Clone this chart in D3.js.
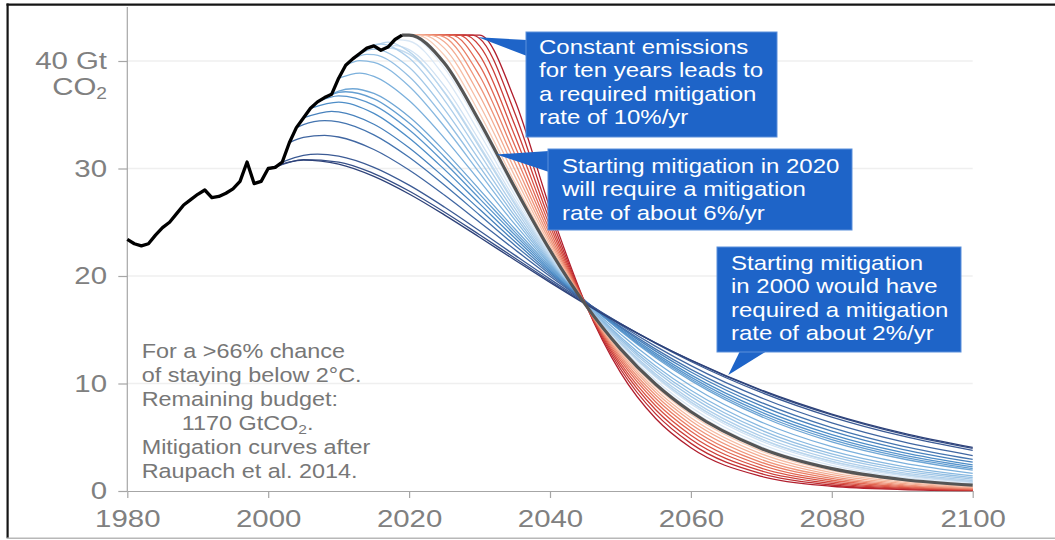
<!DOCTYPE html>
<html>
<head>
<meta charset="utf-8">
<script src="https://cdn.jsdelivr.net/npm/d3@7"></script>
<style>
  html, body { margin: 0; padding: 0; background: #fff; }
  svg { display: block; font-family: "Liberation Sans", Arial, Helvetica, sans-serif; }
</style>
</head>
<body>
<svg id="chart" width="1055" height="540"></svg>
<script>
// ---------------------------------------------------------------------------
// Data: global CO2 emissions (Gt CO2 / yr)
// ---------------------------------------------------------------------------
const historyYears = d3.range(1980, 2020);
const historyEmissions = [
  23.4, 23.0, 22.8, 23.0, 23.8, 24.5, 25.0, 25.8, 26.6, 27.1,
  27.6, 28.0, 27.3, 27.4, 27.7, 28.1, 28.8, 30.6, 28.6, 28.8,
  30.0, 30.1, 30.6, 32.4, 33.8, 34.7, 35.6, 36.2, 36.6, 36.9,
  38.4, 39.6, 40.2, 40.7, 41.2, 41.4, 41.0, 41.3, 42.0, 42.4
];

// Mitigation started earlier (one pathway per start year), [year, GtCO2]
const earlyStartYears = d3.range(2000, 2020);
const earlyStartPaths = [
  [[2000,30.0],[2005,30.78],[2010,30.41],[2015,29.27],[2020,27.63],[2025,25.69],[2030,23.61],[2035,21.49],[2040,19.41],[2045,17.40],[2050,15.52],[2055,13.77],[2060,12.17],[2070,9.39],[2080,7.16],[2090,5.41],[2100,4.05]],
  [[2001,30.1],[2005,30.82],[2010,30.60],[2015,29.53],[2020,27.91],[2025,25.96],[2030,23.84],[2035,21.68],[2040,19.54],[2045,17.49],[2050,15.57],[2055,13.78],[2060,12.15],[2070,9.33],[2080,7.08],[2090,5.31],[2100,3.96]],
  [[2002,30.6],[2005,31.22],[2007,31.34],[2010,31.15],[2015,30.11],[2020,28.45],[2025,26.42],[2030,24.21],[2035,21.94],[2040,19.71],[2045,17.58],[2050,15.58],[2055,13.73],[2060,12.05],[2070,9.17],[2080,6.88],[2090,5.12],[2100,3.77]],
  [[2003,32.4],[2005,32.89],[2008,33.09],[2010,32.93],[2015,31.77],[2020,29.86],[2025,27.53],[2030,25.01],[2035,22.46],[2040,19.97],[2045,17.62],[2050,15.44],[2055,13.45],[2060,11.66],[2070,8.66],[2080,6.34],[2090,4.59],[2100,3.30]],
  [[2004,33.8],[2005,34.09],[2008,34.46],[2010,34.34],[2015,33.13],[2020,31.04],[2025,28.46],[2030,25.68],[2035,22.87],[2040,20.16],[2045,17.63],[2050,15.29],[2055,13.20],[2060,11.32],[2070,8.23],[2080,5.90],[2090,4.18],[2100,2.94]],
  [[2005,34.7],[2009,35.32],[2010,35.27],[2015,34.12],[2020,31.93],[2025,29.17],[2030,26.20],[2035,23.20],[2040,20.32],[2045,17.64],[2050,15.20],[2055,13.01],[2060,11.07],[2070,7.91],[2080,5.57],[2090,3.88],[2100,2.68]],
  [[2006,35.6],[2010,36.18],[2015,35.13],[2020,32.84],[2025,29.92],[2030,26.73],[2035,23.53],[2040,20.47],[2045,17.63],[2050,15.07],[2055,12.80],[2060,10.80],[2070,7.59],[2080,5.25],[2090,3.59],[2100,2.43]],
  [[2007,36.2],[2010,36.76],[2015,35.89],[2020,33.60],[2025,30.55],[2030,27.20],[2035,23.83],[2040,20.61],[2045,17.65],[2050,14.98],[2055,12.64],[2060,10.59],[2070,7.33],[2080,4.99],[2090,3.36],[2100,2.24]],
  [[2008,36.6],[2010,37.08],[2011,37.14],[2015,36.48],[2020,34.23],[2025,31.10],[2030,27.62],[2035,24.10],[2040,20.76],[2045,17.68],[2050,14.93],[2055,12.51],[2060,10.42],[2070,7.11],[2080,4.78],[2090,3.17],[2100,2.08]],
  [[2009,36.9],[2010,37.20],[2012,37.42],[2015,36.98],[2020,34.81],[2025,31.64],[2030,28.04],[2035,24.39],[2040,20.91],[2045,17.73],[2050,14.89],[2055,12.40],[2060,10.27],[2070,6.92],[2080,4.58],[2090,3.00],[2100,1.94]],
  [[2010,38.4],[2013,38.88],[2015,38.57],[2020,36.32],[2025,32.83],[2030,28.85],[2035,24.83],[2040,21.05],[2045,17.61],[2050,14.60],[2055,12.00],[2060,9.79],[2070,6.41],[2080,4.12],[2090,2.61],[2100,1.64]],
  [[2011,39.6],[2013,40.04],[2015,39.88],[2020,37.65],[2025,33.91],[2030,29.59],[2035,25.24],[2040,21.16],[2045,17.51],[2050,14.33],[2055,11.63],[2060,9.37],[2070,5.97],[2080,3.73],[2090,2.30],[2100,1.40]],
  [[2012,40.2],[2014,40.62],[2015,40.59],[2020,38.56],[2025,34.72],[2030,30.18],[2035,25.59],[2040,21.30],[2045,17.47],[2050,14.17],[2055,11.38],[2060,9.07],[2070,5.66],[2080,3.46],[2090,2.09],[2100,1.24]],
  [[2013,40.7],[2015,41.10],[2020,39.41],[2025,35.52],[2030,30.78],[2035,25.95],[2040,21.43],[2045,17.43],[2050,14.01],[2055,11.15],[2060,8.80],[2070,5.37],[2080,3.22],[2090,1.89],[2100,1.10]],
  [[2014,41.2],[2015,41.50],[2016,41.58],[2020,40.27],[2025,36.37],[2030,31.41],[2035,26.31],[2040,21.57],[2045,17.39],[2050,13.83],[2055,10.89],[2060,8.50],[2070,5.08],[2080,2.97],[2090,1.70],[2100,0.97]],
  [[2015,41.4],[2017,41.76],[2020,40.87],[2025,37.07],[2030,31.97],[2035,26.67],[2040,21.71],[2045,17.38],[2050,13.72],[2055,10.70],[2060,8.27],[2070,4.84],[2080,2.77],[2090,1.56],[2100,0.86]],
  [[2016,41.0],[2017,41.21],[2020,40.64],[2025,37.13],[2030,32.13],[2035,26.84],[2040,21.86],[2045,17.47],[2050,13.77],[2055,10.73],[2060,8.28],[2070,4.82],[2080,2.74],[2090,1.54],[2100,0.85]],
  [[2017,41.3],[2018,41.43],[2020,41.06],[2025,37.69],[2030,32.59],[2035,27.13],[2040,21.98],[2045,17.47],[2050,13.67],[2055,10.57],[2060,8.10],[2070,4.64],[2080,2.60],[2090,1.43],[2100,0.78]],
  [[2018,42.0],[2020,41.86],[2025,38.59],[2030,33.28],[2035,27.53],[2040,22.11],[2045,17.40],[2050,13.47],[2055,10.30],[2060,7.79],[2070,4.36],[2080,2.38],[2090,1.27],[2100,0.67]],
  [[2019,42.4],[2020,42.36],[2025,39.34],[2030,33.90],[2035,27.89],[2040,22.25],[2045,17.36],[2050,13.31],[2055,10.08],[2060,7.54],[2070,4.13],[2080,2.20],[2090,1.15],[2100,0.60]]
];

// Mitigation starting in 2020
const startNowPath = [[2019,42.4],[2020,42.4],[2025,39.82],[2030,34.37],[2035,28.22],[2040,22.40],[2045,17.36],[2050,13.22],[2055,9.93],[2060,7.37],[2070,3.96],[2080,2.08],[2090,1.07],[2100,0.54]];

// Emissions held constant, then mitigation starting later
const delayedStartYears = d3.range(2021, 2031);
const delayedStartPaths = [
  [[2020,42.4],[2021,42.4],[2025,40.53],[2030,35.13],[2035,28.73],[2040,22.63],[2045,17.37],[2050,13.07],[2055,9.70],[2060,7.11],[2070,3.71],[2080,1.89],[2090,0.94],[2100,0.46]],
  [[2020,42.4],[2022,42.4],[2025,41.20],[2030,35.93],[2035,29.29],[2040,22.88],[2045,17.37],[2050,12.91],[2055,9.45],[2060,6.82],[2070,3.46],[2080,1.70],[2090,0.82],[2100,0.39]],
  [[2020,42.4],[2023,42.4],[2025,41.79],[2030,36.79],[2035,29.90],[2040,23.17],[2045,17.38],[2050,12.75],[2055,9.18],[2060,6.53],[2070,3.20],[2080,1.52],[2090,0.71],[2100,0.32]],
  [[2020,42.4],[2024,42.4],[2025,42.22],[2030,37.69],[2035,30.58],[2040,23.48],[2045,17.39],[2050,12.56],[2055,8.90],[2060,6.21],[2070,2.93],[2080,1.34],[2090,0.60],[2100,0.26]],
  [[2020,42.4],[2025,42.4],[2030,38.63],[2035,31.33],[2040,23.82],[2045,17.40],[2050,12.36],[2055,8.60],[2060,5.89],[2070,2.67],[2080,1.17],[2090,0.50],[2100,0.21]],
  [[2020,42.4],[2026,42.4],[2030,39.59],[2035,32.14],[2040,24.20],[2045,17.40],[2050,12.14],[2055,8.28],[2060,5.55],[2070,2.40],[2080,1.00],[2090,0.41],[2100,0.16]],
  [[2020,42.4],[2027,42.4],[2030,40.54],[2035,33.05],[2040,24.64],[2045,17.42],[2050,11.90],[2055,7.93],[2060,5.19],[2070,2.13],[2080,0.85],[2090,0.33],[2100,0.12]],
  [[2020,42.4],[2028,42.4],[2030,41.41],[2035,34.05],[2040,25.12],[2045,17.43],[2050,11.64],[2055,7.56],[2060,4.81],[2070,1.87],[2080,0.70],[2090,0.25],[2100,0.09]],
  [[2020,42.4],[2029,42.4],[2030,42.10],[2035,35.17],[2040,25.67],[2045,17.45],[2050,11.35],[2055,7.17],[2060,4.43],[2070,1.61],[2080,0.56],[2090,0.19],[2100,0.06]],
  [[2020,42.4],[2030,42.4],[2035,36.38],[2040,26.29],[2045,17.47],[2050,11.03],[2055,6.74],[2060,4.02],[2070,1.36],[2080,0.44],[2090,0.14],[2100,0.04]]
];

// Axis ticks
const xTicks = [1980, 2000, 2020, 2040, 2060, 2080, 2100];
const yTicks = [0, 10, 20, 30, 40];
const yTickLabels = ["0", "10", "20", "30", "40 Gt"];

// Text blocks
const noteLines = ["For a >66% chance", "of staying below 2°C.", "Remaining budget:", null, "Mitigation curves after", "Raupach et al. 2014."];
const calloutConstant = ["Constant emissions", "for ten years leads to", "a required mitigation", "rate of 10%/yr"];
const callout2020 = ["Starting mitigation in 2020", "will require a mitigation", "rate of about 6%/yr"];
const callout2000 = ["Starting mitigation", "in 2000 would have", "required a mitigation", "rate of about 2%/yr"];

// ---------------------------------------------------------------------------
// Drawing
// ---------------------------------------------------------------------------
const W = 1055, H = 540;
const STRETCH = 1.2;           // type is set slightly wide
const TICK_FONT = 24.5;
const TICK_GREY = "#808080";
const AXIS_GREY = "#a6a6a6";
const BOX_BLUE = "#1e64c8";

const svg = d3.select("#chart");

const x = d3.scaleLinear().domain([1980, 2100]).range([127.3, 972.7]);
const y = d3.scaleLinear().domain([0, 40]).range([491, 61]);

function stretchedText(parent, px, py, str, size, anchor, fill) {
  return parent.append("text")
    .attr("transform", `translate(${px},${py}) scale(${STRETCH},1)`)
    .attr("text-anchor", anchor)
    .attr("font-size", size)
    .attr("fill", fill)
    .text(str);
}

// frame
svg.append("line").attr("x1", 6.5).attr("x2", W).attr("y1", 4.6).attr("y2", 4.6)
  .attr("stroke", "#151515").attr("stroke-width", 2.2);
svg.append("line").attr("x1", 7.6).attr("x2", 7.6).attr("y1", 3.5).attr("y2", 538)
  .attr("stroke", "#151515").attr("stroke-width", 2.2);
svg.append("line").attr("x1", 6.5).attr("x2", W).attr("y1", 538.2).attr("y2", 538.2)
  .attr("stroke", "#b8b8b8").attr("stroke-width", 1.4);

// horizontal gridlines
svg.append("g").selectAll("line")
  .data(yTicks.filter(d => d > 0))
  .join("line")
  .attr("x1", x(1980)).attr("x2", x(2100))
  .attr("y1", d => y(d)).attr("y2", d => y(d))
  .attr("stroke", "#efefef").attr("stroke-width", 1.5);

// y axis
svg.append("line")
  .attr("x1", x(1980)).attr("x2", x(1980))
  .attr("y1", 7).attr("y2", y(0))
  .attr("stroke", AXIS_GREY).attr("stroke-width", 1.2);

const yAxis = svg.append("g")
  .attr("transform", `translate(${x(1980)},0)`)
  .call(d3.axisLeft(y).tickValues(yTicks).tickSize(9).tickSizeOuter(0)
    .tickFormat((d, i) => yTickLabels[i]));
yAxis.attr("font-size", null).attr("font-family", null);
yAxis.select(".domain").remove();
yAxis.selectAll(".tick line").attr("stroke", AXIS_GREY).attr("stroke-width", 1.2);
yAxis.selectAll(".tick text")
  .attr("x", -20.3 / STRETCH)
  .attr("dy", "0.31em")
  .attr("transform", `scale(${STRETCH},1)`)
  .attr("font-size", TICK_FONT)
  .attr("fill", TICK_GREY);

// unit under the top tick label
const unit = svg.append("text")
  .attr("transform", `translate(${x(1980) - 20.3},${y(40) + 33.5}) scale(${STRETCH},1)`)
  .attr("text-anchor", "end").attr("font-size", TICK_FONT).attr("fill", TICK_GREY);
unit.append("tspan").text("CO");
unit.append("tspan").attr("font-size", 16).attr("dy", 4).text("2");

// x axis
const xAxis = svg.append("g")
  .attr("transform", `translate(0,${y(0)})`)
  .call(d3.axisBottom(x).tickValues(xTicks).tickFormat(d3.format("d"))
    .tickSize(7).tickSizeOuter(0));
xAxis.attr("font-size", null).attr("font-family", null);
xAxis.select(".domain").attr("stroke", AXIS_GREY).attr("stroke-width", 1.2);
xAxis.selectAll(".tick line").attr("stroke", AXIS_GREY).attr("stroke-width", 1.2);
xAxis.selectAll(".tick text")
  .attr("y", 36.3).attr("dy", null)
  .attr("transform", `scale(${STRETCH},1)`)
  .attr("font-size", TICK_FONT)
  .attr("fill", TICK_GREY);

// pathways
const line = d3.line()
  .x(d => x(d[0]))
  .y(d => y(d[1]))
  .curve(d3.curveMonotoneX);

const blueRamp = d3.scaleLinear()
  .domain([0, 0.12, 0.3, 0.55, 0.8, 1])
  .range(["#2e4279", "#3d5d98", "#4a8ac5", "#80b4de", "#bdd7ee", "#e3edf8"])
  .interpolate(d3.interpolateRgb);
const redRamp = d3.interpolateRgbBasis(["#f8cdb8", "#f19a7c", "#dc4b3b", "#b01d2c"]);

const curves = svg.append("g").attr("fill", "none").attr("stroke-linejoin", "round");

// later starts first, so earlier (darker) pathways sit on top
curves.selectAll("path.early")
  .data(earlyStartPaths.map((p, i) => ({ path: p, start: earlyStartYears[i], i })).reverse())
  .join("path")
  .attr("class", "early")
  .attr("d", d => line(d.path))
  .attr("stroke", d => blueRamp(d.i / (earlyStartYears.length - 1)))
  .attr("stroke-width", 1.3);

// longest plateau first, so the shared plateau reads light
curves.selectAll("path.delayed")
  .data(delayedStartPaths.map((p, i) => ({ path: p, start: delayedStartYears[i], i })).reverse())
  .join("path")
  .attr("class", "delayed")
  .attr("d", d => line(d.path))
  .attr("stroke", d => redRamp(d.i / (delayedStartYears.length - 1)))
  .attr("stroke-width", 1.3);

curves.append("path")
  .attr("d", line(startNowPath))
  .attr("stroke", "#555555")
  .attr("stroke-width", 3.2);

// observed emissions
curves.append("path")
  .attr("d", d3.line().x((d, i) => x(historyYears[i])).y(d => y(d))(historyEmissions))
  .attr("stroke", "#000")
  .attr("stroke-width", 3.3);

// note, lower left
const note = svg.append("g");
noteLines.forEach((t, i) => {
  const by = 357.5 + i * 24;
  if (t === null) {
    const tt = note.append("text")
      .attr("transform", `translate(181.7,${by}) scale(${STRETCH},1)`)
      .attr("font-size", 19.5).attr("fill", "#777");
    tt.append("tspan").text("1170 GtCO");
    tt.append("tspan").attr("font-size", 13).attr("dy", 4).text("2");
    tt.append("tspan").attr("dy", -4).text(".");
  } else {
    stretchedText(note, 141.7, by, t, 19.5, "start", "#777");
  }
});

// callouts: box + wedge pointing at a point on the curves
function callout(box, tip, base, lines, textX, firstBaseline) {
  const g = svg.append("g");
  g.append("path")
    .attr("d", `M${tip[0]},${tip[1]}L${base[0][0]},${base[0][1]}L${base[1][0]},${base[1][1]}Z`)
    .attr("fill", BOX_BLUE);
  g.append("rect")
    .attr("x", box[0]).attr("y", box[1]).attr("width", box[2]).attr("height", box[3])
    .attr("fill", BOX_BLUE).attr("stroke", "#5a8fdb").attr("stroke-width", 1);
  lines.forEach((t, i) => stretchedText(g, textX, firstBaseline + i * 23.4, t, 20, "start", "#fff"));
}

callout([526, 32, 251, 105], [x(2029.8), y(42.2)], [[527, 40], [527, 56]],
  calloutConstant, 539, 54);
callout([548, 149, 304, 81], [x(2032.4), y(31.3)], [[549, 151], [549, 172]],
  callout2020, 562, 173);
callout([717, 247, 244, 105], [x(2065.3), y(10.8)], [[740, 351], [767, 351]],
  callout2000, 731, 270);
</script>
</body>
</html>
